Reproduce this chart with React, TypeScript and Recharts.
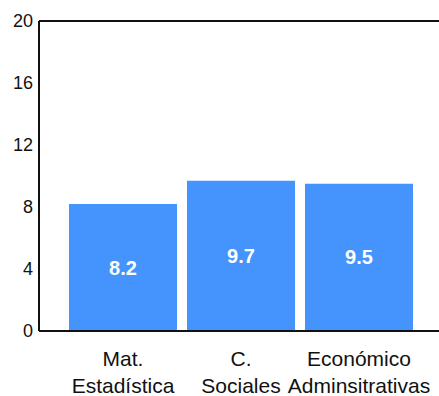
import { Bar, BarChart, LabelList, ReferenceLine, XAxis, YAxis } from "recharts";

const AREAS = ["Mat.\nEstadística", "C.\nSociales", "Económico\nAdminsitrativas"];
const SCORES = [8.2, 9.7, 9.5];
const Y_TICKS = [0, 4, 8, 12, 16, 20];

const DATA = AREAS.map((area, i) => ({ area, score: SCORES[i] }));

const FONT = "'Liberation Sans', Arial, sans-serif";
const BLUE = "#4593fd";
const INK = "#111";

function AreaTick(props: any) {
  const { x, y, payload } = props;
  const lines = String(payload.value).split("\n");
  return (
    <text x={x} y={y} textAnchor="middle" fill={INK} fontSize={21} fontFamily={FONT}>
      {lines.map((l, i) => (
        <tspan key={i} x={x} y={y + 27 + i * 27}>
          {l}
        </tspan>
      ))}
    </text>
  );
}

export default function App() {
  return (
    <div style={{ position: "absolute", left: 0, top: 0, width: 439, height: 396, overflow: "hidden", background: "#fff" }}>
      <BarChart
        width={444}
        height={396}
        data={DATA}
        margin={{ top: 21, right: 0, left: 0, bottom: 0 }}
        barCategoryGap={5}
      >
        <XAxis
          dataKey="area"
          height={65}
          interval={0}
          tickLine={false}
          stroke={INK}
          strokeWidth={2}
          padding={{ left: 25, right: 26 }}
          tick={<AreaTick />}
        />
        <YAxis
          width={39}
          domain={[0, 20]}
          ticks={Y_TICKS}
          tickLine={false}
          tickMargin={0}
          stroke={INK}
          strokeWidth={2}
          tick={{ fill: INK, fontSize: 18, fontFamily: FONT }}
        />
        <ReferenceLine y={20} stroke={INK} strokeWidth={2} />
        <Bar dataKey="score" fill={BLUE} isAnimationActive={false}>
          <LabelList
            dataKey="score"
            position="center"
            fill="#fff"
            fontSize={20}
            fontWeight="bold"
            fontFamily={FONT}
          />
        </Bar>
      </BarChart>
    </div>
  );
}
